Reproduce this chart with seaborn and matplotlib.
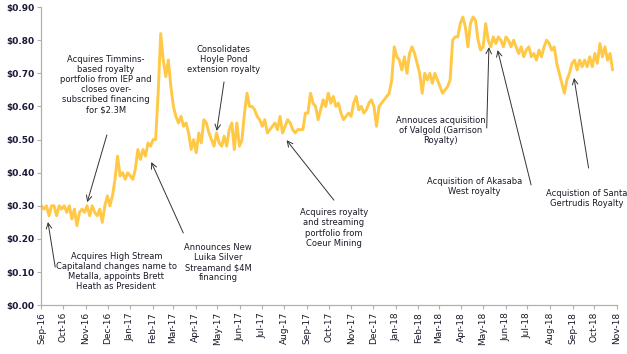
import pandas as pd
import numpy as np
import matplotlib.pyplot as plt
import matplotlib.dates as mdates
import seaborn as sns

# share price, two readings per week, Sep-16 .. Oct-18
price = [
    0.30, 0.29, 0.30, 0.27, 0.30, 0.30, 0.27, 0.30, 0.29, 0.30,
    0.28, 0.30, 0.26, 0.29, 0.24, 0.28, 0.29, 0.28, 0.30, 0.27,
    0.30, 0.28, 0.27, 0.29, 0.25, 0.30, 0.33, 0.30, 0.33, 0.38,
    0.45, 0.39, 0.40, 0.38, 0.40, 0.39, 0.38, 0.41, 0.47, 0.44,
    0.47, 0.45, 0.49, 0.48, 0.50, 0.50, 0.64, 0.82, 0.74, 0.69,
    0.74, 0.66, 0.60, 0.57, 0.55, 0.57, 0.54, 0.55, 0.52, 0.47,
    0.50, 0.46, 0.52, 0.49, 0.56, 0.55, 0.52, 0.50, 0.48, 0.52,
    0.49, 0.48, 0.51, 0.48, 0.53, 0.55, 0.47, 0.55, 0.48, 0.50,
    0.58, 0.64, 0.60, 0.60, 0.59, 0.57, 0.56, 0.54, 0.56, 0.52,
    0.53, 0.54, 0.55, 0.53, 0.57, 0.52, 0.54, 0.56, 0.55, 0.53,
    0.52, 0.53, 0.53, 0.53, 0.58, 0.58, 0.64, 0.61, 0.60, 0.56,
    0.59, 0.62, 0.60, 0.64, 0.61, 0.63, 0.60, 0.61, 0.58, 0.56,
    0.57, 0.58, 0.57, 0.61, 0.63, 0.59, 0.60, 0.58, 0.59, 0.61,
    0.62, 0.60, 0.54, 0.60, 0.61, 0.62, 0.63, 0.64, 0.68, 0.78,
    0.75, 0.74, 0.71, 0.75, 0.70, 0.76, 0.78, 0.76, 0.73, 0.70,
    0.64, 0.70, 0.68, 0.70, 0.67, 0.70, 0.68, 0.66, 0.64, 0.65,
    0.66, 0.68, 0.80, 0.81, 0.81, 0.85, 0.87, 0.84, 0.78, 0.85,
    0.87, 0.86, 0.80, 0.77, 0.78, 0.85, 0.80, 0.78, 0.81, 0.79,
    0.81, 0.80, 0.78, 0.81, 0.80, 0.78, 0.80, 0.78, 0.76, 0.78,
    0.75, 0.77, 0.78, 0.75, 0.76, 0.74, 0.77, 0.75, 0.78, 0.80,
    0.79, 0.77, 0.78, 0.73, 0.70, 0.67, 0.64, 0.68, 0.70, 0.73,
    0.74, 0.71, 0.74, 0.72, 0.74, 0.72, 0.75, 0.72, 0.76, 0.73,
    0.79, 0.75, 0.78, 0.74, 0.76, 0.71,
]
dates = pd.date_range('2016-09-01', '2018-10-26', periods=len(price))

# annotations: text, text anchor (date, top), arrow start, arrow tip
notes = [
    ("Acquires High Stream\nCapitaland changes name to\nMetalla, appoints Brett\nHeath as President",
     ('2016-12-13', 0.160), ('2016-09-20', 0.115), ('2016-09-10', 0.251)),
    ("Acquires Timmins-\nbased royalty\nportfolio from IEP and\ncloses over-\nsubscribed financing\nfor $2.3M",
     ('2016-11-29', 0.755), ('2016-11-30', 0.514), ('2016-11-03', 0.311)),
    ("Announces New\nLuika Silver\nStreamand $4M\nfinancing",
     ('2017-05-02', 0.187), ('2017-03-15', 0.218), ('2017-01-30', 0.432)),
    ("Consolidates\nHoyle Pond\nextension royalty",
     ('2017-05-09', 0.785), ('2017-05-10', 0.674), ('2017-04-30', 0.526)),
    ("Acquires royalty\nand streaming\nportfolio from\nCoeur Mining",
     ('2017-10-08', 0.292), ('2017-10-08', 0.317), ('2017-08-04', 0.498)),
    ("Annouces acquisition\nof Valgold (Garrison\nRoyalty)",
     ('2018-03-04', 0.570), ('2018-05-06', 0.535), ('2018-05-09', 0.779)),
    ("Acquisition of Akasaba\nWest royalty",
     ('2018-04-19', 0.386), ('2018-07-06', 0.363), ('2018-05-21', 0.770)),
    ("Acquistion of Santa\nGertrudis Royalty",
     ('2018-09-21', 0.352), ('2018-09-23', 0.414), ('2018-09-03', 0.686)),
]

df = pd.DataFrame({'date': dates, 'price': price})

sns.set_style('white')
plt.rcParams['font.family'] = ['DejaVu Sans']

fig, ax = plt.subplots(figsize=(6.27, 3.54), dpi=100)
fig.subplots_adjust(left=0.066, right=0.984, top=0.98, bottom=0.138)

sns.lineplot(data=df, x='date', y='price', color='#FFC846', linewidth=2.1, ax=ax)

for text, (tx, ty), (sx, sy), (ex, ey) in notes:
    ax.text(pd.Timestamp(tx), ty, text, ha='center', va='top', fontsize=6,
            color='#1a1a2a', linespacing=1.15)
    ax.annotate('', xy=(pd.Timestamp(ex), ey), xytext=(pd.Timestamp(sx), sy),
                arrowprops=dict(arrowstyle='->', color='#333333', lw=0.7,
                                shrinkA=0, shrinkB=0))

ax.set_xlim(pd.Timestamp('2016-09-01'), pd.Timestamp('2018-11-01'))
ax.set_ylim(0, 0.9)
ax.set_yticks(np.arange(0, 0.91, 0.1))
ax.set_yticklabels([f'${v:.2f}' for v in np.arange(0, 0.91, 0.1)])
ax.xaxis.set_major_locator(mdates.MonthLocator())
ax.xaxis.set_major_formatter(mdates.DateFormatter('%b-%y'))
plt.setp(ax.get_xticklabels(), rotation=90, fontsize=6.5, color='#1a1a2a')
plt.setp(ax.get_yticklabels(), fontsize=6.5, color='#1a1a3a', fontweight='bold')
ax.set_xlabel('')
ax.set_ylabel('')

for s in ['top', 'right']:
    ax.spines[s].set_visible(False)
for s in ['left', 'bottom']:
    ax.spines[s].set_color('#b0b0b0')
    ax.spines[s].set_linewidth(0.9)
ax.tick_params(axis='both', which='major', length=3, width=0.8, color='#b0b0b0',
               direction='out', pad=2, bottom=True, left=True)

fig.savefig('out.png', dpi=100)
